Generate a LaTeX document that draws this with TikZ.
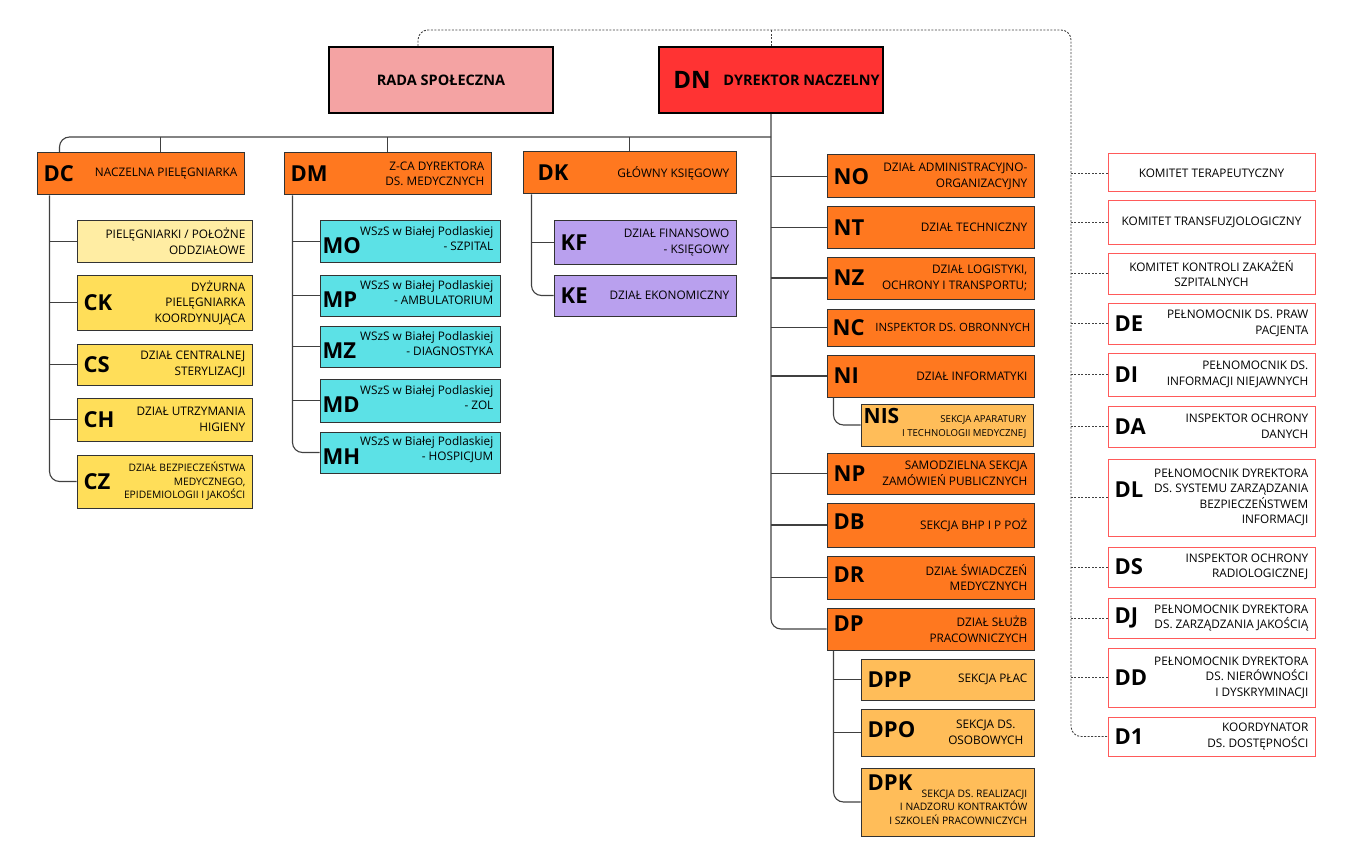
\documentclass[tikz,border=0pt]{standalone}
\usepackage{fontspec}
\setmainfont{Open Sans}

\definecolor{orng}{HTML}{FF781F}
\definecolor{lorng}{HTML}{FFBD59}
\definecolor{pinkr}{HTML}{F4A3A3}
\definecolor{dnred}{HTML}{FF3333}
\definecolor{lyell}{HTML}{FFEDA3}
\definecolor{yell}{HTML}{FFDE59}
\definecolor{cyanb}{HTML}{5CE1E6}
\definecolor{lavd}{HTML}{B9A0EE}
\definecolor{redln}{HTML}{FF5A5A}

\tikzset{
  box/.style={draw=black!80, line width=1pt, inner sep=0pt},
  obox/.style={box, fill=orng},
  lobox/.style={box, fill=lorng},
  ybox/.style={box, fill=yell},
  lybox/.style={box, fill=lyell},
  cbox/.style={box, fill=cyanb},
  vbox/.style={box, fill=lavd},
  kbox/.style={draw=redln, line width=1pt, fill=white, inner sep=0pt},
  topbox/.style={draw=black, line width=1.8pt, inner sep=0pt},
  code/.style={font=\fontsize{22}{22}\selectfont\bfseries, inner sep=0pt},
  desc/.style={font=\fontsize{11.8}{15.5}\selectfont, align=right, inner sep=0pt},
  small/.style={desc/.append style={font=\fontsize{10.3}{13.5}\selectfont}},
  wsz/.style={code/.append style={xshift=-4pt, yshift=-4pt}, desc/.append style={yshift=3pt}},
  link/.style={draw=black!75, line width=1.1pt},
  dashline/.style={draw=black!75, line width=0.9pt, dash pattern=on 2pt off 1.5pt},
}

% box with a short code on the left and a text on the right
\newcommand{\dept}[9][]{%
  \node[#3, minimum width={(#6-#4)*1pt}, minimum height={(#7-#5)*1pt}] (#2) at ({(#4+#6)/2},{(#5+#7)/2}) {};
  \begin{scope}[#1]
    \node[code, anchor=west] (#2c) at ([xshift=7pt]#2.west) {#8};
    \node[desc, anchor=east] (#2t) at ([xshift=-7pt]#2.east) {#9};
  \end{scope}}
% box with a centred text
\newcommand{\board}[7]{%
  \node[#2, minimum width={(#5-#3)*1pt}, minimum height={(#6-#4)*1pt}, align=center] (#1) at ({(#3+#5)/2},{(#4+#6)/2}) {#7};}

\begin{document}
\begin{tikzpicture}[x=1pt, y=-1pt]
  \useasboundingbox (0,0) rectangle (1365,845);

  % Top level
  \board{RADA}{topbox, fill=pinkr, font=\fontsize{14.5}{16}\selectfont\bfseries}{329}{47}{553}{113}{RADA SPOŁECZNA}
  \dept[code/.append style={font=\fontsize{24}{24}\selectfont\bfseries, xshift=8pt},
        desc/.append style={font=\fontsize{14.5}{16}\selectfont\bfseries, xshift=3pt}]
       {DN}{topbox, fill=dnred}{659}{47}{883}{113}{DN}{DYREKTOR NACZELNY}

  % Second level
  \dept{DC}{obox}{37}{153}{244}{195}{DC}{NACZELNA PIELĘGNIARKA}
  \dept{DM}{obox}{284}{153}{491}{195}{DM}{Z-CA DYREKTORA\\DS. MEDYCZNYCH}
  \dept[code/.append style={xshift=8pt}]{DK}{obox}{523}{152}{736}{194}{DK}{GŁÓWNY KSIĘGOWY}

  % Nursing
  \dept{PN}{lybox}{77}{221}{252}{262}{}{PIELĘGNIARKI / POŁOŻNE\\ODDZIAŁOWE}
  \dept{CK}{ybox}{77}{275}{252}{330}{CK}{DYŻURNA\\PIELĘGNIARKA\\KOORDYNUJĄCA}
  \dept{CS}{ybox}{77}{344}{252}{385}{CS}{DZIAŁ CENTRALNEJ\\STERYLIZACJI}
  \dept{CH}{ybox}{77}{398}{252}{441}{CH}{DZIAŁ UTRZYMANIA\\HIGIENY}
  \dept[small]{CZ}{ybox}{77}{455}{252}{508}{CZ}{DZIAŁ BEZPIECZEŃSTWA\\MEDYCZNEGO,\\EPIDEMIOLOGII I JAKOŚCI}

  % Hospital units
  \dept[wsz]{MO}{cbox}{320}{221}{500}{262}{MO}{WSzS w Białej Podlaskiej\\- SZPITAL}
  \dept[wsz]{MP}{cbox}{320}{275}{500}{316}{MP}{WSzS w Białej Podlaskiej\\- AMBULATORIUM}
  \dept[wsz]{MZ}{cbox}{320}{326}{500}{367}{MZ}{WSzS w Białej Podlaskiej\\- DIAGNOSTYKA}
  \dept[wsz]{MD}{cbox}{320}{379}{500}{422}{MD}{WSzS w Białej Podlaskiej\\- ZOL}
  \dept[wsz]{MH}{cbox}{320}{432}{500}{473}{MH}{WSzS w Białej Podlaskiej\\- HOSPICJUM}

  % Finance
  \dept{KF}{vbox}{554}{221}{736}{264}{KF}{DZIAŁ FINANSOWO\\- KSIĘGOWY}
  \dept{KE}{vbox}{554}{275}{736}{316}{KE}{DZIAŁ EKONOMICZNY}

  % Director's departments
  \dept{NO}{obox}{827}{155}{1034}{198}{NO}{DZIAŁ ADMINISTRACYJNO-\\ORGANIZACYJNY}
  \dept{NT}{obox}{827}{207}{1034}{248}{NT}{DZIAŁ TECHNICZNY}
  \dept{NZ}{obox}{827}{257}{1034}{299}{NZ}{DZIAŁ LOGISTYKI,\\OCHRONY I TRANSPORTU;}
  \dept[code/.append style={xshift=-1pt}, desc/.append style={xshift=3pt, font=\fontsize{11.4}{15}\selectfont}]{NC}{obox}{827}{309}{1034}{346}{NC}{INSPEKTOR DS. OBRONNYCH}
  \dept{NI}{obox}{827}{355}{1034}{397}{NI}{DZIAŁ INFORMATYKI}
  \dept[code/.append style={xshift=-4pt, yshift=9pt, font=\fontsize{21}{21}\selectfont\bfseries},
        desc/.append style={yshift=-2pt, font=\fontsize{9.6}{13.5}\selectfont}]
       {NIS}{lobox}{861}{404}{1033}{446}{NIS}{SEKCJA APARATURY\\I TECHNOLOGII MEDYCZNEJ}
  \dept{NP}{obox}{827}{453}{1034}{494}{NP}{SAMODZIELNA SEKCJA\\ZAMÓWIEŃ PUBLICZNYCH}
  \dept[code/.append style={yshift=3pt}]{DB}{obox}{827}{503}{1034}{547}{DB}{SEKCJA BHP I P POŻ}
  \dept[code/.append style={yshift=3pt}]{DR}{obox}{827}{556}{1034}{599}{DR}{DZIAŁ ŚWIADCZEŃ\\MEDYCZNYCH}
  \dept[code/.append style={yshift=5pt}]{DP}{obox}{827}{608}{1034}{650}{DP}{DZIAŁ SŁUŻB\\PRACOWNICZYCH}
  \dept{DPP}{lobox}{861}{659}{1034}{700}{DPP}{SEKCJA PŁAC}
  \dept[code/.append style={yshift=3pt}, desc/.append style={align=center, xshift=-4pt}]{DPO}{lobox}{861}{709}{1034}{756}{DPO}{SEKCJA DS.\\OSOBOWYCH}
  \dept[small, code/.append style={yshift=19pt}, desc/.append style={yshift=-5pt}]{DPK}{lobox}{861}{768}{1034}{836}{DPK}{SEKCJA DS. REALIZACJI\\I NADZORU KONTRAKTÓW\\I SZKOLEŃ PRACOWNICZYCH}

  % Committees and plenipotentiaries
  \board{KT}{kbox, desc}{1108}{154}{1315}{192}{KOMITET TERAPEUTYCZNY}
  \board{KTR}{kbox, desc}{1108}{201}{1315}{244}{KOMITET TRANSFUZJOLOGICZNY}
  \board{KK}{kbox, desc, align=center}{1108}{253}{1315}{294}{KOMITET KONTROLI ZAKAŻEŃ\\SZPITALNYCH}
  \dept{DE}{kbox}{1108}{303}{1315}{344}{DE}{PEŁNOMOCNIK DS. PRAW\\PACJENTA}
  \dept{DI}{kbox}{1108}{353}{1315}{396}{DI}{PEŁNOMOCNIK DS.\\INFORMACJI NIEJAWNYCH}
  \dept{DA}{kbox}{1108}{406}{1315}{447}{DA}{INSPEKTOR OCHRONY\\DANYCH}
  \dept[code/.append style={yshift=8pt}]{DL}{kbox}{1108}{459}{1315}{536}{DL}{PEŁNOMOCNIK DYREKTORA\\DS. SYSTEMU ZARZĄDZANIA\\BEZPIECZEŃSTWEM\\INFORMACJI}
  \dept{DS}{kbox}{1108}{547}{1315}{587}{DS}{INSPEKTOR OCHRONY\\RADIOLOGICZNEJ}
  \dept{DJ}{kbox}{1108}{598}{1315}{638}{DJ}{PEŁNOMOCNIK DYREKTORA\\DS. ZARZĄDZANIA JAKOŚCIĄ}
  \dept{DD}{kbox}{1108}{648}{1315}{707}{DD}{PEŁNOMOCNIK DYREKTORA\\DS. NIERÓWNOŚCI\\I DYSKRYMINACJI}
  \dept{D1}{kbox}{1108}{717}{1315}{756}{D1}{KOORDYNATOR\\DS. DOSTĘPNOŚCI}

  % Solid connectors
  \coordinate (bus) at (771,137);
  \draw[link, rounded corners=10pt] (bus) -| ([xshift=23pt]DC.north west);
  \draw[link] ([xshift=20pt]DC.north) -- ([xshift=20pt]DC.north |- bus);
  \draw[link] (DM.north) -- (DM.north |- bus);
  \draw[link] (DK.north) -- (DK.north |- bus);
  \draw[link, rounded corners=10pt] (DN.south) |- (DP.west);
  \foreach \n in {NO,NT,NZ,NC,NI,NP,DB,DR}
    \draw[link] (\n.west) -- (\n.west -| DN.south);

  \coordinate (dcl) at ([xshift=13pt]DC.south west);
  \draw[link, rounded corners=10pt] (dcl) |- (CZ.west);
  \foreach \n in {PN,CK,CS,CH}
    \draw[link] (\n.west) -- (\n.west -| dcl);

  \coordinate (dml) at ([xshift=9pt]DM.south west);
  \draw[link, rounded corners=10pt] (dml) |- (MH.west);
  \foreach \n in {MO,MP,MZ,MD}
    \draw[link] (\n.west) -- (\n.west -| dml);

  \coordinate (dkl) at ([xshift=9pt]DK.south west);
  \draw[link, rounded corners=10pt] (dkl) |- (KE.west);
  \draw[link] (KF.west) -- (KF.west -| dkl);

  \coordinate (nil) at ([xshift=7pt]NI.south west);
  \draw[link, rounded corners=10pt] (nil) |- (NIS.west);

  \coordinate (dpl) at ([xshift=7pt]DP.south west);
  \draw[link, rounded corners=10pt] (dpl) |- (DPK.west);
  \foreach \n in {DPP,DPO}
    \draw[link] (\n.west) -- (\n.west -| dpl);

  % Dashed connectors
  \coordinate (dtop) at (1071,30);
  \draw[dashline, rounded corners=10pt] ([xshift=-23pt]RADA.north) |- (dtop) |- (D1.west);
  \draw[dashline] (DN.north) -- (DN.north |- dtop);
  \foreach \n in {KT,KTR,KK,DE,DI,DA,DL,DS,DJ,DD}
    \draw[dashline] (\n.west) -- (\n.west -| dtop);
\end{tikzpicture}
\end{document}
